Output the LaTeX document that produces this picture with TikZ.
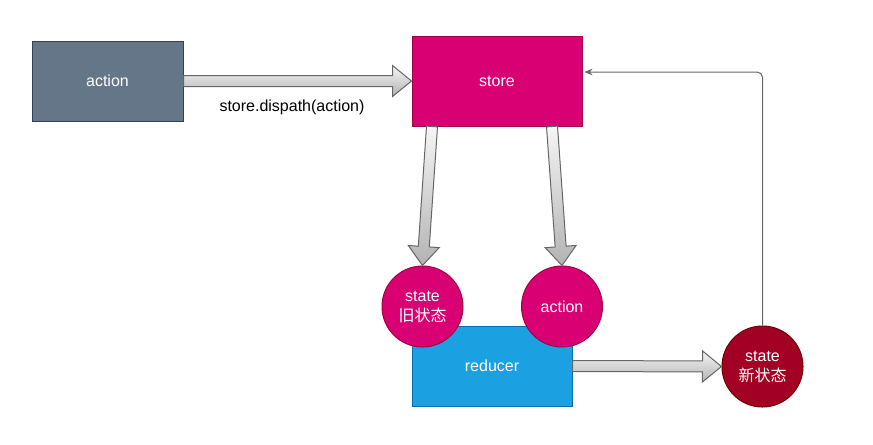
\documentclass[tikz,border=0pt]{standalone}
\usepackage{fontspec}
\setmainfont{Liberation Sans}
\newfontfamily\cjk{Noto Sans CJK SC}
\usetikzlibrary{calc,arrows.meta}
\definecolor{actfill}{HTML}{647687}
\definecolor{actdraw}{HTML}{314354}
\definecolor{stfill}{HTML}{D80073}
\definecolor{stdraw}{HTML}{A50040}
\definecolor{redfill}{HTML}{1BA1E2}
\definecolor{reddraw}{HTML}{006EAF}
\definecolor{newfill}{HTML}{A20025}
\definecolor{newdraw}{HTML}{6F0000}
\definecolor{arrdraw}{HTML}{666666}
\definecolor{arrlight}{HTML}{F5F5F5}
\definecolor{arrdark}{HTML}{B3B3B3}
\tikzset{
  box/.style={rectangle, line width=0.75pt, inner sep=0pt, text=white, font=\fontsize{12}{15}\selectfont, align=center},
  circ/.style={circle, line width=0.75pt, inner sep=0pt, minimum size=60.75pt, text=white, font=\fontsize{12}{15}\selectfont, align=center},
  blockarr/.style={draw=arrdraw, line width=0.75pt, top color=arrlight, bottom color=arrdark, line join=miter},
  fb/.style={draw=arrdraw, line width=0.75pt, rounded corners=4pt, -{Stealth[length=6pt,width=5pt]}},
  lbl/.style={font=\fontsize{12}{15}\selectfont, text=black}
}
\newcommand\blockarrow[2]{%
  \coordinate (ba-h) at ($(#2)!14.25pt!(#1)$);
  \path[blockarr] ($(#1)!4.125pt!90:(#2)$) -- ($(ba-h)!4.125pt!-90:(#1)$) -- ($(ba-h)!11.625pt!-90:(#1)$) -- (#2) -- ($(ba-h)!11.625pt!90:(#1)$) -- ($(ba-h)!4.125pt!90:(#1)$) -- ($(#1)!4.125pt!-90:(#2)$) -- cycle;}
\begin{document}
\begin{tikzpicture}[x=0.75pt,y=-0.75pt]
\useasboundingbox (0,0) rectangle (873,444);
\node[box, fill=actfill, draw=actdraw, minimum width=113.25pt, minimum height=60pt] (action) at (107.5,81) {action};
\node[box, fill=stfill, draw=stdraw, minimum width=127.5pt, minimum height=67.5pt] (store) at (497,81) {store};
\node[box, fill=redfill, draw=reddraw, minimum width=120pt, minimum height=60pt] (reducer) at (492,366) {reducer};
\node[circ, fill=stfill, draw=stdraw] (stateold) at (422.5,306.5) {state\\{\cjk 旧状态}};
\node[circ, fill=stfill, draw=stdraw] (actionc) at (562,306.5) {action};
\node[circ, fill=newfill, draw=newdraw] (statenew) at (762.5,366.5) {state\\{\cjk 新状态}};
\coordinate (s1) at (432,126.5);
\coordinate (s2) at (552,126.5);
\blockarrow{action.east}{store.west}
\blockarrow{s1}{stateold.north}
\blockarrow{s2}{actionc.north}
\blockarrow{reducer.east}{statenew.west}
\node[lbl] (dispatch) at (292,107) {store.dispath(action)};
\draw[fb] (statenew.north) |- ($(store.east)+(2,-9)$);
\end{tikzpicture}
\end{document}
